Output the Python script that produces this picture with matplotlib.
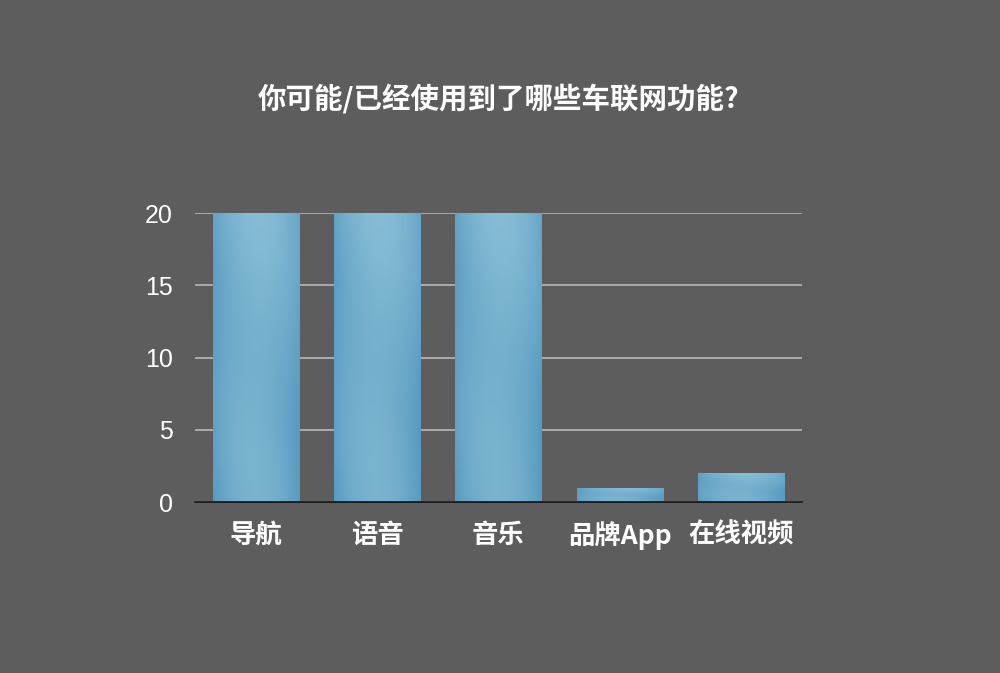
import matplotlib
matplotlib.use("Agg")
import matplotlib.pyplot as plt
import numpy as np

plt.rcParams['font.family'] = ['Noto Sans CJK SC', 'DejaVu Sans']

categories = ["导航", "语音", "音乐", "品牌App", "在线视频"]
values = [20, 20, 20, 1, 2]
yticks = [0, 5, 10, 15, 20]
title = "你可能/已经使用到了哪些车联网功能?"

bg = "#5d5d5d"
fig = plt.figure(figsize=(10, 6.73), dpi=100, facecolor=bg)
ax = fig.add_axes([0.195, 0.254, 0.607, 0.4295])
ax.set_facecolor("none")

x = np.arange(len(categories))
bars = ax.bar(x, values, width=0.71, color="#6fa9cb", zorder=3)

# gradient texture inside bars
h, w = 64, 64
gx = np.linspace(0, 1, w)[None, :]
gy = np.linspace(0, 1, h)[:, None]
c1 = np.array([0x58, 0x9a, 0xc0]) / 255
c2 = np.array([0x8c, 0xc0, 0xd8]) / 255
t = np.clip(0.55 * np.sin(np.pi * gx) ** 0.8 + 0.25 * gy + 0.1 * np.sin(6 * gy + 3 * gx), 0, 1)
img = c1[None, None, :] * (1 - t[..., None]) + c2[None, None, :] * t[..., None]
for b in bars:
    x0, y0 = b.get_x(), b.get_y()
    im = ax.imshow(img, extent=[x0, x0 + b.get_width(), y0, y0 + b.get_height()],
                   origin="lower", aspect="auto", zorder=3.5, interpolation="bilinear")
    im.set_clip_path(b)

ax.set_xlim(-0.5, 4.5)
ax.set_ylim(0, 20)
ax.set_yticks(yticks)
ax.set_xticks(x)
ax.set_xticklabels(categories, fontsize=19, fontweight="bold", color="white")
ax.tick_params(axis="y", colors="white", labelsize=18, length=0, pad=16)
ax.tick_params(axis="x", length=0, pad=14)
for lbl in ax.get_yticklabels():
    lbl.set_family(["Liberation Sans", "DejaVu Sans"])
ax.yaxis.grid(True, color="#b8b8b8", linewidth=1.2, zorder=1)
ax.set_axisbelow(True)
for s in ["top", "right", "left"]:
    ax.spines[s].set_visible(False)
ax.spines["bottom"].set_color("#111111")
ax.spines["bottom"].set_linewidth(1.2)
ax.spines["bottom"].set_zorder(5)

fig.text(0.4985, 0.852, title, ha="center", va="center", fontsize=20.5,
         fontweight="bold", color="white")

fig.savefig("out.png", dpi=100, facecolor=bg)
